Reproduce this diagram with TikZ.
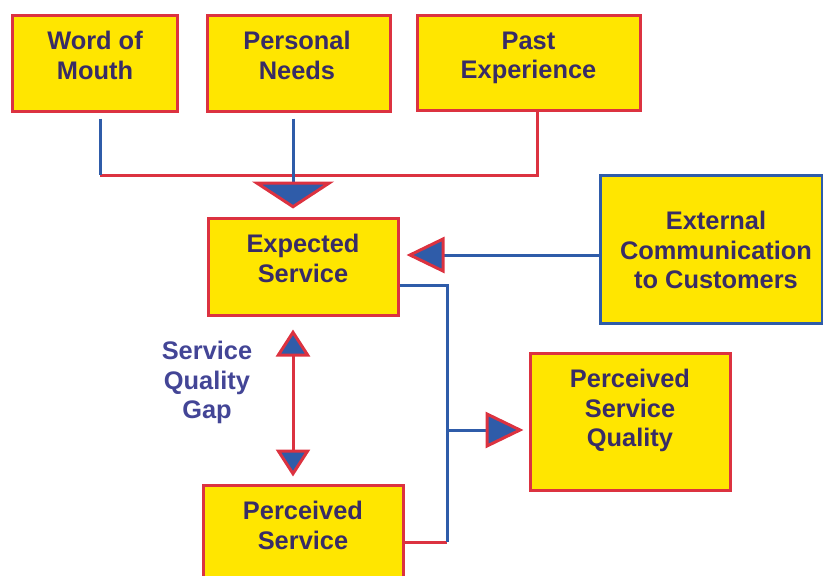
\documentclass[tikz,border=0pt]{standalone}
\usepackage{fontspec}
\setmainfont{Liberation Sans}
\usepackage{xcolor}
\usetikzlibrary{arrows.meta}

\definecolor{boxyellow}{HTML}{FFE600}
\definecolor{lred}{HTML}{DC3240}
\definecolor{lblue}{HTML}{2F5CA9}
\definecolor{txtnavy}{HTML}{382C66}
\definecolor{gapblue}{HTML}{434596}

\tikzset{
    widehead/.tip={Triangle[width=82pt, length=27pt, line width=3pt, color=lred, fill=lblue]},
    pointer/.tip={Triangle[width=36pt, length=38pt, line width=3pt, color=lred, fill=lblue]},
    gaphead/.tip={Triangle[width=34pt, length=27pt, line width=3pt, color=lred, fill=lblue]}
}

\begin{document}
\begin{tikzpicture}[x=1pt, y=-1pt,
    box/.style={draw=lred, fill=boxyellow, line width=3pt, inner sep=0pt},
    txt/.style={align=center, text=txtnavy, font=\fontsize{25.4}{29.5}\selectfont\bfseries},
    rline/.style={draw=lred, line width=3pt},
    bline/.style={draw=lblue, line width=3pt}]
    \useasboundingbox (0,0) rectangle (823,576);

    % 1. Các ô
    \node[box, minimum width=165pt, minimum height=96pt] (wom) at (94.5,63) {};
    \node[box, minimum width=183pt, minimum height=96pt] (needs) at (298.5,63) {};
    \node[box, minimum width=223pt, minimum height=95pt] (past) at (528.5,62.5) {};
    \node[box, draw=lblue, minimum width=222pt, minimum height=148pt] (ext) at (711,249) {};
    \node[box, minimum width=190pt, minimum height=97pt] (expd) at (303,266.5) {};
    \node[box, minimum width=200pt, minimum height=114pt] (perc) at (303,542) {};
    \node[box, minimum width=200pt, minimum height=137pt] (qual) at (630,421.5) {};

    % 2. Chữ
    \node[txt] (wom-t) at (95,55.5) {Word of\\Mouth};
    \node[txt] (needs-t) at (297,55.5) {Personal\\Needs};
    \node[txt] (past-t) at (528.5,58) {Past\\Experience};
    \node[txt] (ext-t) at (716,250) {External\\Communication\\to Customers};
    \node[txt] (expd-t) at (303,258.5) {Expected\\Service};
    \node[txt] (perc-t) at (303,525.5) {Perceived\\Service};
    \node[txt] (qual-t) at (630,410.5) {Perceived\\Service\\Quality};
    \node[txt, text=gapblue] (gap) at (207,382.5) {Service\\Quality\\Gap};

    % 3. Đường nối
    \coordinate (join) at (100,175);
    \coordinate (bus) at (447,430);
    \draw[rline] ([xshift=8.5pt]past.south) |- (join);
    \draw[bline] ([xshift=5.5pt,yshift=-6pt]wom.south) -- (join);
    \draw[bline, -{widehead}] ([xshift=-5.5pt,yshift=-6pt]needs.south) -- ([xshift=-10pt,yshift=8pt]expd.north);
    \draw[bline, -{pointer}] ([yshift=-6pt]ext.west) -- ([xshift=7pt,yshift=11.5pt]expd.east);
    \draw[rline] (perc.east) -- (perc.east -| bus);
    \draw[bline] ([yshift=-18.5pt]expd.east) -| (perc.east -| bus);
    \draw[bline, -{pointer}] (bus) -- ([xshift=-5pt,yshift=-8.5pt]qual.west);
    \draw[rline, {gaphead}-{gaphead}] ([xshift=-10pt,yshift=-13pt]expd.south) -- ([xshift=-10pt,yshift=7pt]perc.north);
\end{tikzpicture}
\end{document}
